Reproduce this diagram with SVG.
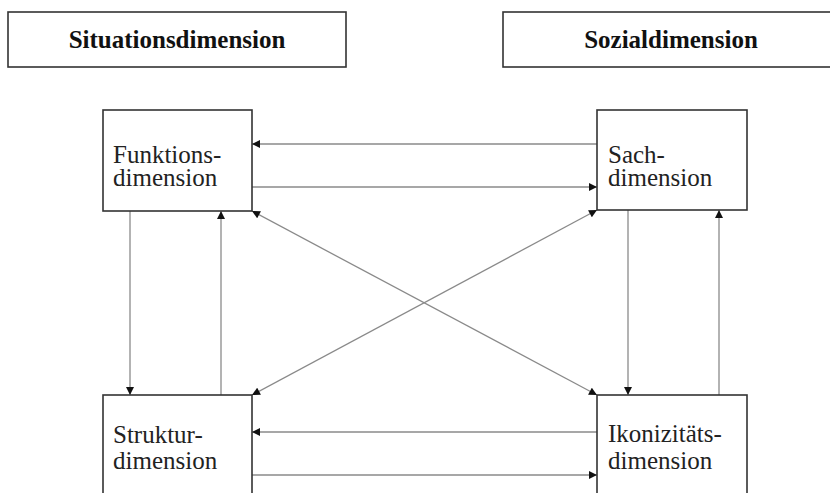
<svg xmlns="http://www.w3.org/2000/svg" width="830" height="493" viewBox="0 0 830 493">
<defs>
<marker id="ah" viewBox="0 0 10 10" refX="10" refY="5" markerWidth="9" markerHeight="8" markerUnits="userSpaceOnUse" orient="auto-start-reverse">
<path d="M0,0 L10,5 L0,10 z" fill="#111"/>
</marker>
<style>
.box{fill:#fff;stroke:#333;stroke-width:1.6}
.hd{font-family:"Liberation Serif","Times New Roman",serif;font-weight:bold;font-size:25px;fill:#111;text-anchor:middle}
.lb{font-family:"Liberation Serif","Times New Roman",serif;font-size:25px;fill:#222}
.cn line{stroke:#8a8a8a;stroke-width:1.3;fill:none}
</style>
</defs>
<rect width="830" height="493" fill="#fff"/>
<g id="situationsdimension">
<rect class="box" x="8" y="12" width="338" height="55"/>
<text class="hd" x="177" y="48">Situationsdimension</text>
</g>
<g id="sozialdimension">
<rect class="box" x="503" y="12" width="336" height="55"/>
<text class="hd" x="671" y="48">Sozialdimension</text>
</g>
<g id="connectors" class="cn">
<line x1="597" y1="144" x2="252" y2="144" marker-end="url(#ah)"/>
<line x1="252" y1="187" x2="597" y2="187" marker-end="url(#ah)"/>
<line x1="597" y1="432" x2="252" y2="432" marker-end="url(#ah)"/>
<line x1="252" y1="475" x2="597" y2="475" marker-end="url(#ah)"/>
<line x1="130" y1="211" x2="130" y2="395" marker-end="url(#ah)"/>
<line x1="221" y1="395" x2="221" y2="211" marker-end="url(#ah)"/>
<line x1="628" y1="210" x2="628" y2="395" marker-end="url(#ah)"/>
<line x1="719" y1="395" x2="719" y2="210" marker-end="url(#ah)"/>
<line x1="252" y1="211" x2="597" y2="395" marker-start="url(#ah)" marker-end="url(#ah)"/>
<line x1="597" y1="210" x2="252" y2="395" marker-start="url(#ah)" marker-end="url(#ah)"/>
</g>
<g id="funktionsdimension">
<rect class="box" x="103" y="110" width="149" height="101"/>
<text class="lb" x="113" y="163">Funktions-</text>
<text class="lb" x="113" y="186">dimension</text>
</g>
<g id="sachdimension">
<rect class="box" x="597" y="110" width="150" height="100"/>
<text class="lb" x="608" y="163">Sach-</text>
<text class="lb" x="608" y="186">dimension</text>
</g>
<g id="strukturdimension">
<rect class="box" x="103" y="395" width="149" height="110"/>
<text class="lb" x="113" y="443">Struktur-</text>
<text class="lb" x="113" y="469">dimension</text>
</g>
<g id="ikonizitaetsdimension">
<rect class="box" x="597" y="395" width="150" height="110"/>
<text class="lb" x="608" y="442">Ikonizitäts-</text>
<text class="lb" x="608" y="469">dimension</text>
</g>
</svg>
